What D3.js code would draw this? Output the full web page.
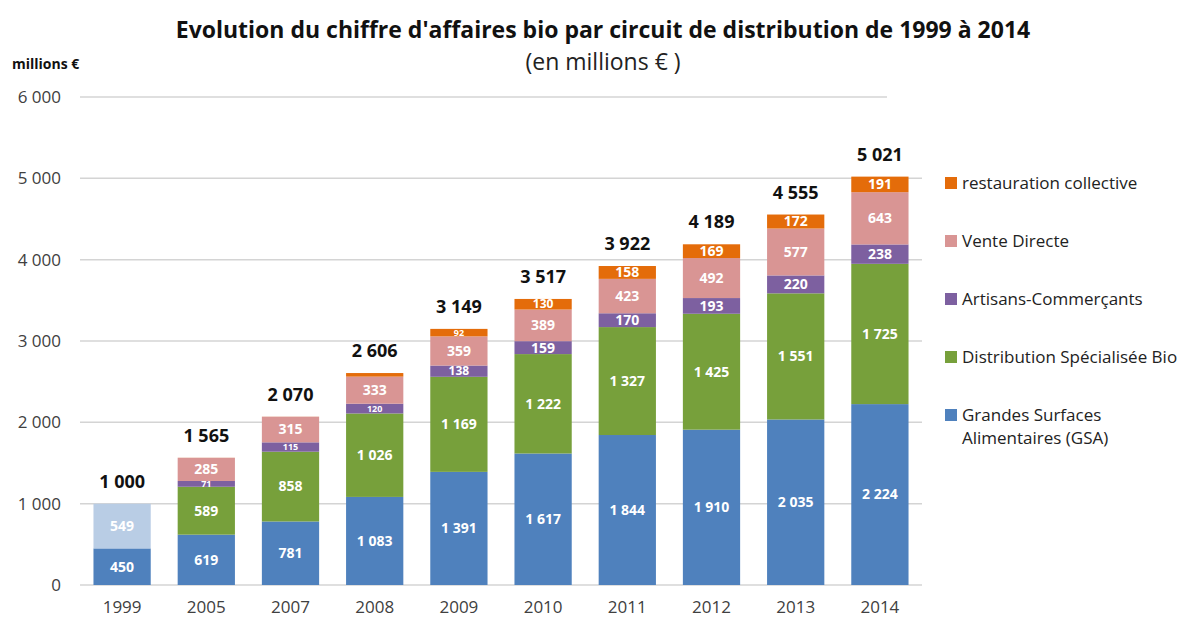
<!DOCTYPE html>
<html>
<head>
<meta charset="utf-8">
<script src="https://cdn.jsdelivr.net/npm/d3@7"></script>
<style>
  body { margin: 0; background: #fff; }
  svg { font-family: "Open Sans", "Noto Sans", sans-serif; }
</style>
</head>
<body>
<div id="chart"></div>
<script>
// data
var years = ["1999", "2005", "2007", "2008", "2009", "2010", "2011", "2012", "2013", "2014"];
var gsa = [450, 619, 781, 1083, 1391, 1617, 1844, 1910, 2035, 2224];
var nonReparti = [549, 0, 0, 0, 0, 0, 0, 0, 0, 0];
var distribBio = [0, 589, 858, 1026, 1169, 1222, 1327, 1425, 1551, 1725];
var artisans = [0, 71, 115, 120, 138, 159, 170, 193, 220, 238];
var venteDirecte = [0, 285, 315, 333, 359, 389, 423, 492, 577, 643];
var restauration = [0, 1, 1, 44, 92, 130, 158, 169, 172, 191];
var totals = [1000, 1565, 2070, 2606, 3149, 3517, 3922, 4189, 4555, 5021];
var yTicks = [0, 1000, 2000, 3000, 4000, 5000, 6000];

var series = [
  {key: "gsa", values: gsa, color: "#4f81bd"},
  {key: "autre", values: nonReparti, color: "#b9cde5"},
  {key: "bio", values: distribBio, color: "#77a03b"},
  {key: "artisans", values: artisans, color: "#7d60a0"},
  {key: "vente", values: venteDirecte, color: "#d99594"},
  {key: "resto", values: restauration, color: "#e46c0a"}
];
var legendItems = [
  {label: ["restauration collective"], color: "#e46c0a"},
  {label: ["Vente Directe"], color: "#d99594"},
  {label: ["Artisans-Commerçants"], color: "#7d60a0"},
  {label: ["Distribution Spécialisée Bio"], color: "#77a03b"},
  {label: ["Grandes Surfaces", "Alimentaires (GSA)"], color: "#4f81bd"}
];

var width = 1185, height = 619;
var svg = d3.select("#chart").append("svg")
  .attr("width", width).attr("height", height);

var x = d3.scaleBand().domain(years).range([80, 922]).paddingInner(0.32).paddingOuter(0.16);
var y = d3.scaleLinear().domain([0, 6000]).range([585, 97]);

function fmt(v){
  return d3.format(",")(v).replace(/,/g, "\u00a0");
}

// titles
svg.append("text").attr("x", 603).attr("y", 38).attr("text-anchor", "middle")
  .style("font-size", "23px").style("font-weight", "bold").attr("fill", "#111")
  .text("Evolution du chiffre d'affaires bio par circuit de distribution de 1999 à 2014");
svg.append("text").attr("x", 603).attr("y", 70).attr("text-anchor", "middle")
  .style("font-size", "23px").attr("fill", "#222")
  .text("(en millions € )");
svg.append("text").attr("x", 12).attr("y", 69)
  .style("font-size", "14px").style("font-weight", "bold").attr("fill", "#111")
  .text("millions €");

// grid + y labels
var grid = svg.append("g");
grid.selectAll("line").data(yTicks).enter().append("line")
  .attr("x1", 80).attr("x2", function(d){ return d === 6000 ? 887 : 922; })
  .attr("y1", function(d){ return y(d); }).attr("y2", function(d){ return y(d); })
  .attr("stroke", "#d4d4d4").attr("stroke-width", 1.5);

var yAxis = d3.axisLeft(y).tickValues(yTicks).tickFormat(fmt).tickSize(0).tickPadding(0);
svg.append("g").attr("transform", "translate(61,0)").call(yAxis)
  .call(function(g){ g.select(".domain").remove(); })
  .selectAll("text").style("font-size", "17px").attr("fill", "#404040")
  .attr("font-family", "'Open Sans', sans-serif");

var xAxis = d3.axisBottom(x).tickSize(0).tickPadding(0);
svg.append("g").attr("transform", "translate(0,601)").call(xAxis)
  .call(function(g){ g.select(".domain").remove(); })
  .selectAll("text").style("font-size", "17px").attr("fill", "#404040")
  .attr("font-family", "'Open Sans', sans-serif");

// stack
var rows = years.map(function(yr, i){
  var o = {year: yr};
  series.forEach(function(s){ o[s.key] = s.values[i]; });
  return o;
});
var stack = d3.stack().keys(series.map(function(s){ return s.key; }));
var layers = stack(rows);

var gl = svg.selectAll(".layer").data(layers).enter().append("g")
  .attr("class", "layer")
  .attr("fill", function(d, i){ return series[i].color; });

gl.selectAll("rect").data(function(d){ return d; }).enter().append("rect")
  .attr("x", function(d){ return x(d.data.year); })
  .attr("width", x.bandwidth())
  .attr("y", function(d){ return y(d[1]); })
  .attr("height", function(d){ return y(d[0]) - y(d[1]); });

// thin segments get a smaller label so it stays inside
function labelSize(d){
  var h = y(d[0]) - y(d[1]);
  return h < 10.5 ? 9 : (h < 12 ? 12 : 14);
}
gl.selectAll("text").data(function(d){ return d.filter(function(e){ return e[1] - e[0] >= 50; }); })
  .enter().append("text")
  .attr("x", function(d){ return x(d.data.year) + x.bandwidth() / 2; })
  .attr("y", function(d){ return (y(d[0]) + y(d[1])) / 2 + labelSize(d) * 0.35; })
  .attr("text-anchor", "middle")
  .style("font-size", function(d){ return labelSize(d) + "px"; })
  .style("font-weight", "bold")
  .attr("fill", "#fff")
  .text(function(d){ return fmt(d[1] - d[0]); });

// totals
svg.append("g").selectAll("text").data(years).enter().append("text")
  .attr("x", function(d){ return x(d) + x.bandwidth() / 2; })
  .attr("y", function(d, i){ return y(totals[i]) - 16; })
  .attr("text-anchor", "middle")
  .style("font-size", "18px").style("font-weight", "bold").attr("fill", "#111")
  .text(function(d, i){ return fmt(totals[i]); });

// legend
var legY = [183, 241, 299, 357, 415];
var lg = svg.append("g").selectAll("g").data(legendItems).enter().append("g")
  .attr("transform", function(d, i){ return "translate(945," + legY[i] + ")"; });
lg.append("rect").attr("x", 0).attr("y", -6).attr("width", 12).attr("height", 12)
  .attr("fill", function(d){ return d.color; });
lg.append("text").attr("x", 17).attr("y", 6)
  .style("font-size", "17px").attr("fill", "#222")
  .selectAll("tspan").data(function(d){ return d.label; }).enter().append("tspan")
  .attr("x", 17).attr("dy", function(d, i){ return i === 0 ? 0 : 23; })
  .text(function(d){ return d; });
</script>
</body>
</html>
